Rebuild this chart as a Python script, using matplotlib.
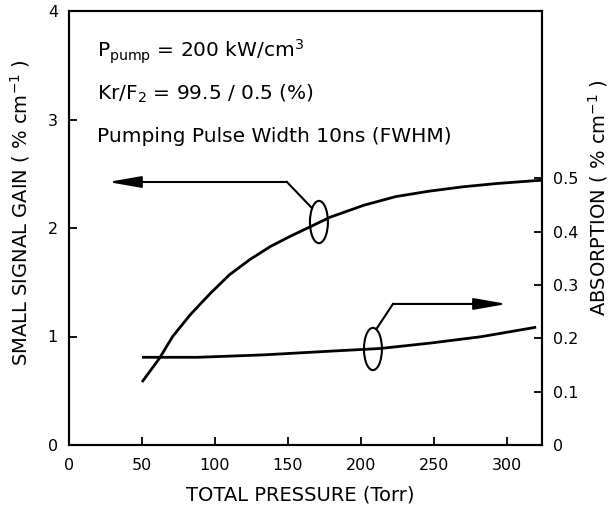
import numpy as np
import matplotlib
matplotlib.use("Agg")
import matplotlib.pyplot as plt
from matplotlib.patches import Ellipse

# total pressure (Torr) / small signal gain (% cm-1), left axis
gain_p = [50, 62, 71, 83, 97, 110, 124, 138, 151, 179, 202, 224, 247, 270, 293, 318, 324]
gain = [0.58, 0.80, 1.00, 1.20, 1.40, 1.57, 1.71, 1.83, 1.92, 2.10, 2.21, 2.29, 2.34,
        2.38, 2.41, 2.435, 2.44]

# total pressure (Torr) / absorption (% cm-1), right axis
abs_p = [50, 88, 133, 179, 213, 247, 282, 316, 320]
absorption = [0.1645, 0.1645, 0.169, 0.176, 0.181, 0.191, 0.203, 0.219, 0.221]

x_ticks = [0, 50, 100, 150, 200, 250, 300]
gain_ticks = [0, 1, 2, 3, 4]
abs_ticks = [0, 0.1, 0.2, 0.3, 0.4, 0.5]
abs_labels = ["0", "0.1", "0.2", "0.3", "0.4", "0.5"]

W, H = 612, 512
fig = plt.figure(figsize=(W / 100, H / 100), dpi=100)
ax = fig.add_axes([69 / W, 1 - 445 / H, (542 - 69) / W, (445 - 11) / H])
ax2 = ax.twinx()

ax.plot(gain_p, gain, color="k", lw=2.0, solid_capstyle="butt")
ax2.plot(abs_p, absorption, color="k", lw=2.0, solid_capstyle="butt")

ax.set_xlim(0, 324)
ax.set_ylim(0, 4)
ax2.set_ylim(0, 0.814)

ax.set_xticks(x_ticks)
ax.set_yticks(gain_ticks)
ax2.set_yticks(abs_ticks)
ax2.set_yticklabels(abs_labels)

for a in (ax, ax2):
    for s in a.spines.values():
        s.set_linewidth(1.5)
ax.tick_params(axis="both", direction="in", length=6, width=1.3, labelsize=11.5, pad=8)
ax.tick_params(axis="x", pad=9)
ax2.tick_params(axis="y", direction="in", length=6, width=1.3, labelsize=11.5, pad=8)

# leader with arrow to the left axis
ax.plot([149.3, 166.4], [2.424, 2.184], color="k", lw=1.5)
ax.annotate("", xy=(26.7, 2.424), xytext=(149.3, 2.424),
            arrowprops=dict(arrowstyle="-|>,head_length=2.0,head_width=0.35",
                            color="k", lw=1.5, shrinkA=0, shrinkB=0))
ax.add_patch(Ellipse((171.2, 2.055), 12.3, 0.39, fill=False, lw=1.5, color="k"))

# leader with arrow to the right axis
ax.plot([211.0, 221.9], [1.078, 1.30], color="k", lw=1.5)
ax.annotate("", xy=(300.0, 1.30), xytext=(221.9, 1.30),
            arrowprops=dict(arrowstyle="-|>,head_length=2.0,head_width=0.35",
                            color="k", lw=1.5, shrinkA=0, shrinkB=0))
ax.add_patch(Ellipse((208.2, 0.885), 12.3, 0.39, fill=False, lw=1.5, color="k"))

tfs = 14.5
fig.text(97 / W, 1 - 58 / H, r"P$_{\rm pump}$ = 200 kW/cm$^3$", fontsize=tfs, va="baseline")
fig.text(97 / W, 1 - 100 / H, r"Kr/F$_2$ = 99.5 / 0.5 (%)", fontsize=tfs, va="baseline")
fig.text(97 / W, 1 - 142 / H, "Pumping Pulse Width 10ns (FWHM)", fontsize=tfs, va="baseline")

fig.text(300 / W, 1 - 495 / H, "TOTAL PRESSURE (Torr)", fontsize=14,
         ha="center", va="center")
fig.text(20 / W, 1 - 213 / H, r"SMALL SIGNAL GAIN ( % cm$^{-1}$ )", fontsize=14,
         rotation=90, ha="center", va="center")
fig.text(598 / W, 1 - 198 / H, r"ABSORPTION ( % cm$^{-1}$ )", fontsize=14,
         rotation=90, ha="center", va="center")

fig.savefig("out.png", dpi=100)
